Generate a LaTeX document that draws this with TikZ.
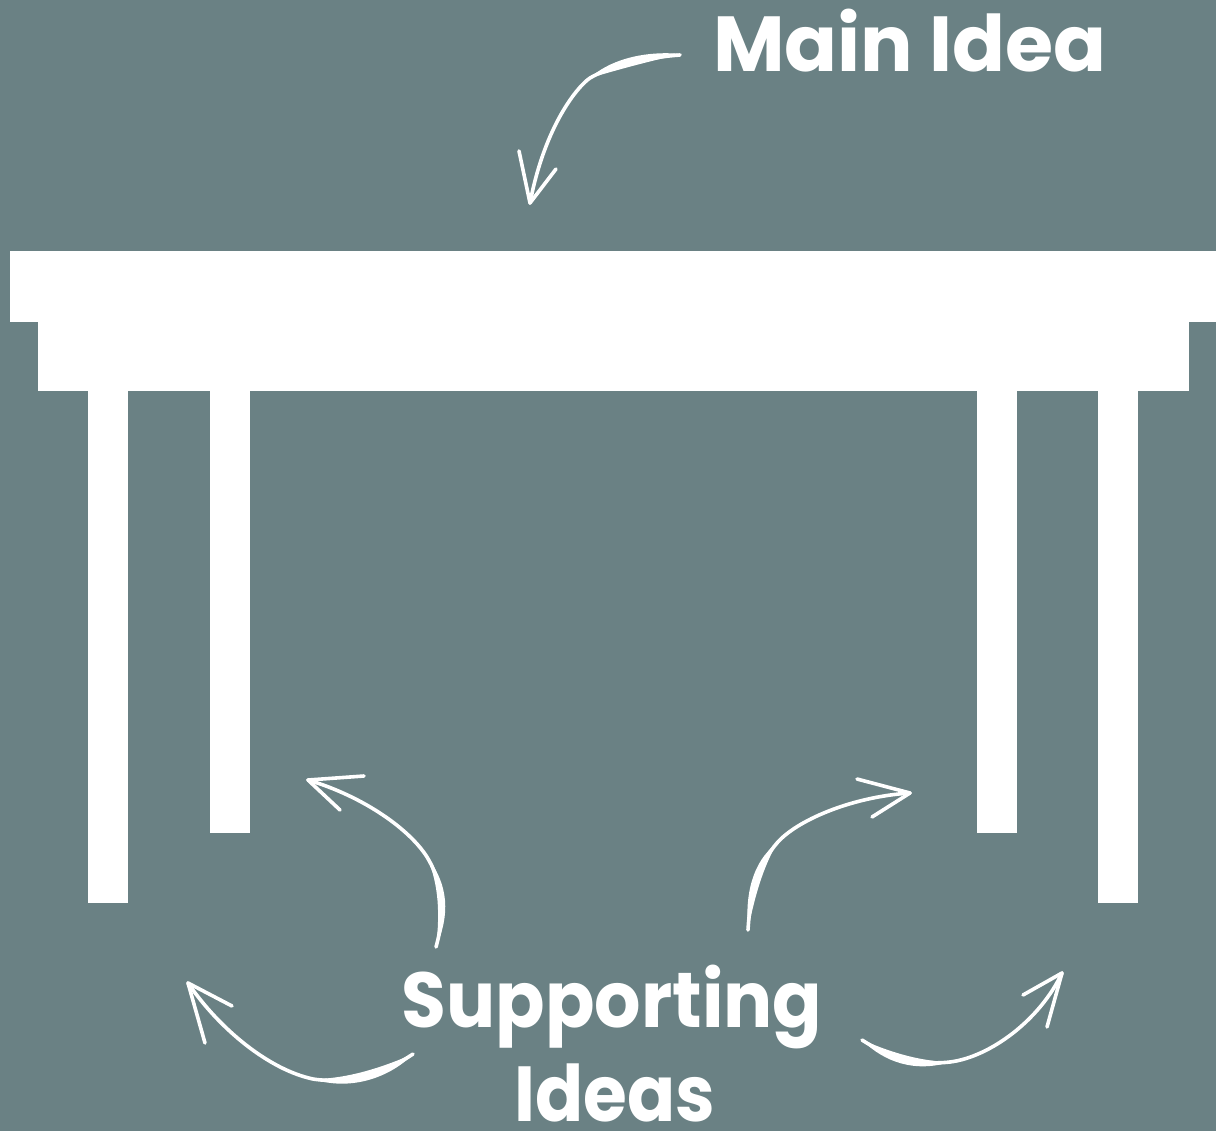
\documentclass[tikz,border=0pt]{standalone}
\usepackage{fontspec}
\setmainfont{Poppins}[UprightFont=* Bold]
\definecolor{bg}{HTML}{6A8184}
\begin{document}
\begin{tikzpicture}[x=1pt,y=-1pt,
  slab/.style={fill=white,draw=none},
  stroke/.style={draw=white,line width=3.6pt,line cap=round,line join=round},
  brush/.style={fill=white,draw=none},
  barb/.style={draw=white,line width=3.6pt,line cap=round},
  label/.style={text=white,font=\fontsize{78}{94}\selectfont,inner sep=0pt,anchor=base}]
\useasboundingbox[fill=bg] (0,0) rectangle (1216,1131);
% table
\fill[slab] (10,251) rectangle (1216,322);
\fill[slab] (38,322) rectangle (1189,391);
\fill[slab] (88,391) rectangle (128,903);
\fill[slab] (210,391) rectangle (250,833);
\fill[slab] (977,391) rectangle (1017,833);
\fill[slab] (1098,391) rectangle (1138,903);
% texts
\node[label,anchor=base west] (main) at (713,72) {Main Idea};
\node[label] (sup) at (612,1027) {\scalebox{0.935}[1]{Supporting}};
\node[label] (ideas) at (615,1121) {\scalebox{0.91}[1]{Ideas}};
% main arrow
\coordinate (m0) at (680,55);
\coordinate (mk) at (590,78);
\coordinate (m1) at (530,203);
\draw[stroke] (m0) .. controls (640,58) and (607,68) .. (mk)
              .. controls (578,86) and (545,125) .. (m1);
\fill[brush] (mk) .. controls (607,62) and (640,50) .. (682,54)
             .. controls (645,62) and (610,72) .. (mk) -- cycle;
\draw[barb] (m1) -- (519,151);
\draw[barb] (m1) -- (556,169);
% left upper arrow
\coordinate (a0) at (436,947);
\coordinate (ak) at (427,857);
\coordinate (a1) at (308,780);
\draw[stroke] (a0) .. controls (445,915) and (444,885) .. (ak)
              .. controls (410,830) and (365,797) .. (a1);
\fill[brush] (a0) .. controls (450,915) and (449,885) .. (ak)
             .. controls (439,885) and (440,915) .. (a0) -- cycle;
\draw[barb] (a1) -- (364,776);
\draw[barb] (a1) -- (340,810);
% left lower arrow
\coordinate (b0) at (413,1054);
\coordinate (bk) at (313,1079);
\coordinate (b1) at (188,983);
\draw[stroke] (b0) .. controls (390,1070) and (350,1085) .. (bk)
              .. controls (270,1070) and (220,1030) .. (b1);
\fill[brush] (b0) .. controls (392,1076) and (352,1092) .. (bk)
             .. controls (350,1079) and (388,1065) .. (b0) -- cycle;
\draw[barb] (b1) -- (232,1006);
\draw[barb] (b1) -- (205,1043);
% right upper arrow
\coordinate (c0) at (748,930);
\coordinate (ck) at (777,843);
\coordinate (c1) at (910,793);
\draw[stroke] (c0) .. controls (750,895) and (758,865) .. (ck)
              .. controls (796,821) and (850,797) .. (c1);
\fill[brush] (c0) .. controls (745,895) and (752,862) .. (ck)
             .. controls (763,868) and (755,895) .. (c0) -- cycle;
\draw[barb] (c1) -- (857,779);
\draw[barb] (c1) -- (872,817);
% right lower arrow
\coordinate (d0) at (862,1040);
\coordinate (dk) at (950,1062);
\coordinate (d1) at (1062,973);
\draw[stroke] (d0) .. controls (885,1055) and (915,1066) .. (dk)
              .. controls (990,1057) and (1040,1020) .. (d1);
\fill[brush] (d0) .. controls (884,1062) and (915,1073) .. (dk)
             .. controls (915,1061) and (886,1050) .. (d0) -- cycle;
\draw[barb] (d1) -- (1023,995);
\draw[barb] (d1) -- (1047,1027);
\end{tikzpicture}
\end{document}
